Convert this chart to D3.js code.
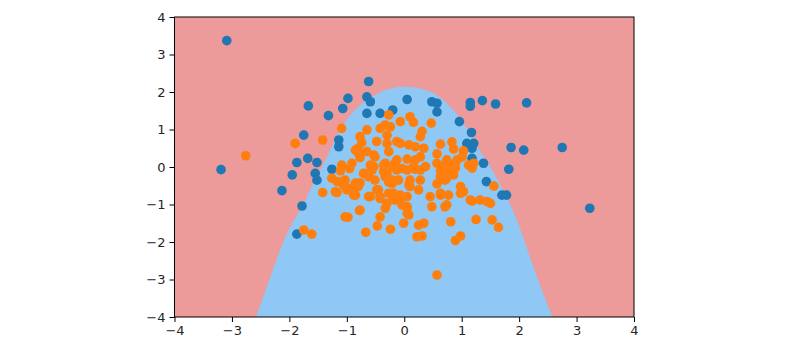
<!DOCTYPE html>
<html><head><meta charset="utf-8">
<script src="https://cdn.jsdelivr.net/npm/d3@7"></script>
<style>html,body{margin:0;padding:0;background:#fff;}svg{display:block;}</style>
</head><body>
<svg id="chart" width="799" height="344"></svg>
<script>
const xTicks = [-4,-3,-2,-1,0,1,2,3,4];
const yTicks = [-4,-3,-2,-1,0,1,2,3,4];

// decision boundary (class-1 region), left bottom -> top -> right bottom
const boundary = [
  [-2.58,-4],[-2.30,-2.8],[-2.12,-2.05],[-1.97,-1.55],[-1.79,-1.1],[-1.61,-0.53],[-1.43,0.0],
  [-1.26,0.54],[-1.09,1.07],[-0.80,1.61],[-0.33,2.05],[0.05,2.14],[0.51,1.97],[0.80,1.61],
  [1.03,1.17],[1.27,0.54],[1.50,0.0],[1.72,-0.61],[1.89,-1.15],[2.05,-1.78],[2.21,-2.5],
  [2.40,-3.3],[2.58,-4]
];

const bluePoints = [
  [-3.09,3.37],[-3.19,-0.07],[-0.62,2.28],[-0.65,1.87],[-0.59,1.74],[-0.98,1.83],[-1.07,1.56],
  [-1.67,1.63],[-1.32,1.37],[-0.65,1.43],[-0.42,1.43],[-0.20,1.52],[-1.75,0.85],[-1.14,0.72],
  [-1.14,0.54],[-1.87,0.12],[-1.68,0.23],[-1.52,0.12],[-1.95,-0.21],[-1.55,-0.17],[-1.52,-0.35],
  [-1.26,-0.06],[-1.78,-1.04],[-2.13,-0.63],[-1.87,-1.79],
  [0.05,1.80],[0.48,1.74],[0.57,1.70],[0.57,1.47],[1.15,1.72],[1.15,1.62],[1.36,1.77],[1.59,1.68],
  [2.13,1.71],[0.96,1.21],[1.17,0.92],[1.09,0.63],[1.21,0.63],[1.18,0.50],[1.86,0.52],[2.08,0.45],
  [2.75,0.52],[1.18,0.23],[1.38,0.10],[1.82,-0.06],[1.43,-0.39],[1.70,-0.75],[1.78,-0.75],[3.23,-1.10]
];

const orangePoints = [
  [-2.76,0.30],[0.57,-2.88],[-1.42,0.72],[-1.90,0.63],[-1.09,1.03],[-0.27,1.39],[-1.75,-1.68],
  [-1.61,-1.79],[-1.42,-0.68],
  [-0.65,0.99],[-0.77,0.81],[-0.74,0.65],[-0.42,1.03],[-0.33,1.12],[-0.24,1.07],[-0.07,1.21],
  [0.10,1.34],[0.16,1.19],[0.31,0.95],[0.28,0.81],[0.47,1.17],[-0.30,0.85],[-0.30,0.63],[-0.27,0.41],
  [-0.07,0.63],[0.08,0.59],[0.19,0.54],[0.34,0.50],[0.63,0.61],[0.83,0.67],[0.86,0.48],[1.03,0.43],
  [1.01,0.27],[0.57,0.35],[-0.80,0.50],[-0.65,0.41],[-0.53,0.32],[-0.85,0.45],[-0.80,0.37],
  [-0.51,0.27],[-0.77,0.25],[-0.48,0.68],[-0.13,0.68],[-0.13,0.19],[0.05,0.21],[0.19,0.19],
  [0.28,0.27],[0.57,0.10],[0.74,0.19],[0.89,0.10],[0.92,0.19],[1.21,0.10],[1.18,-0.03],[1.12,0.05],
  [-1.11,-0.10],[-0.95,-0.04],[-0.91,0.10],[-1.09,0.05],[-0.59,0.05],[-0.53,0.01],[-0.36,0.05],
  [-0.33,0.10],[-0.21,0.01],[-0.16,0.10],[-0.13,-0.08],[-0.04,-0.04],[0.05,-0.08],[0.16,0.01],
  [0.28,-0.08],[0.37,0.01],[0.19,-0.06],[0.63,-0.10],[0.69,0.03],[0.80,-0.03],[0.86,0.01],
  [0.89,-0.03],[0.80,-0.13],[0.63,-0.26],[0.77,-0.21],[0.74,-0.30],[0.86,-0.21],[0.71,-0.35],
  [0.57,-0.45],[0.77,-0.17],
  [-1.26,-0.30],[-1.17,-0.39],[-1.09,-0.39],[-1.03,-0.35],[-1.06,-0.48],[-0.94,-0.57],[-0.85,-0.43],
  [-0.80,-0.52],[-0.77,-0.42],[-0.71,-0.17],[-0.62,-0.17],[-0.62,-0.26],[-0.56,-0.08],[-0.51,-0.35],
  [-0.36,-0.12],[-0.33,-0.26],[-0.30,-0.17],[-0.27,-0.40],[-0.21,-0.44],[-0.10,-0.35],[-0.21,-0.35],
  [0.10,-0.35],[0.28,-0.35],[0.08,-0.48],[0.10,-0.52],[0.25,-0.61],
  [-1.20,-0.66],[-1.17,-0.68],[-1.00,-0.61],[-0.88,-0.75],[-0.85,-0.75],[-0.62,-0.79],[-0.59,-0.79],
  [-0.48,-0.61],[-0.45,-0.61],[-0.42,-0.79],[-0.42,-0.84],[-0.27,-0.70],[-0.19,-0.70],[-0.19,-0.84],
  [-0.07,-0.84],[-0.07,-0.75],[-0.04,-1.01],[-0.16,-0.88],[-0.30,-0.97],[0.05,-0.79],[0.05,-1.06],
  [0.05,-1.23],[0.45,-0.79],[0.63,-0.75],[0.77,-0.75],[0.63,-0.70],[0.48,-1.06],[0.71,-1.06],
  [0.74,-1.01],[0.98,-0.52],[1.03,-0.66],[0.98,-0.70],[1.15,-0.88],[1.18,-0.91],[1.32,-0.88],
  [1.44,-0.92],[1.50,-0.97],[1.56,-0.51],
  [-0.33,-1.10],[0.05,-1.10],[-0.77,-1.15],[-1.03,-1.33],[-0.42,-1.33],[0.08,-1.28],[-0.98,-1.34],
  [-0.78,-1.16],[-0.67,-1.74],[-0.47,-1.57],[-0.24,-1.66],[-0.01,-1.50],[0.34,-1.50],[0.25,-1.55],
  [0.22,-1.86],[0.31,-1.84],[0.81,-1.46],[1.25,-1.40],[1.53,-1.41],[1.64,-1.61],[0.89,-1.96],[0.98,-1.84]
];

const svg = d3.select("#chart");
const pLeft = 174.5, pRight = 634, pTop = 17, pBottom = 317;
const x = d3.scaleLinear().domain([-4,4]).range([pLeft,pRight]);
const y = d3.scaleLinear().domain([-4,4]).range([pBottom,pTop]);

svg.append("defs").append("clipPath").attr("id","clip")
  .append("rect").attr("x",pLeft).attr("y",pTop).attr("width",pRight-pLeft).attr("height",pBottom-pTop);

const g = svg.append("g").attr("clip-path","url(#clip)");
g.append("rect").attr("x",pLeft).attr("y",pTop).attr("width",pRight-pLeft).attr("height",pBottom-pTop)
  .attr("fill","#ec9a9a");

const line = d3.line().x(d=>x(d[0])).y(d=>y(d[1])).curve(d3.curveCatmullRom.alpha(0.5));
const last = boundary[boundary.length-1], first = boundary[0];
const region = line(boundary) + `L${x(last[0])},${y(-4.2)}L${x(first[0])},${y(-4.2)}Z`;
g.append("path").attr("d",region).attr("fill","#8fc8f4");

g.selectAll("circle.b").data(bluePoints).enter().append("circle")
  .attr("class","b").attr("cx",d=>x(d[0])).attr("cy",d=>y(d[1])).attr("r",4.8).attr("fill","#1f77b4");
g.selectAll("circle.o").data(orangePoints).enter().append("circle")
  .attr("class","o").attr("cx",d=>x(d[0])).attr("cy",d=>y(d[1])).attr("r",4.8).attr("fill","#ff7f0e");

const fmt = d => d < 0 ? "\u2212" + Math.abs(d) : String(d);
const xAxis = svg.append("g").attr("transform",`translate(0,${pBottom})`)
  .call(d3.axisBottom(x).tickValues(xTicks).tickFormat(fmt).tickSizeInner(5).tickSizeOuter(0).tickPadding(4));
const yAxis = svg.append("g").attr("transform",`translate(${pLeft},0)`)
  .call(d3.axisLeft(y).tickValues(yTicks).tickFormat(fmt).tickSizeInner(5).tickSizeOuter(0).tickPadding(4));
[xAxis,yAxis].forEach(a=>{
  a.select(".domain").remove();
  a.selectAll("line").attr("stroke","#000").attr("stroke-width",1);
  a.selectAll("text").attr("fill","#262626").style("font-family","DejaVu Sans").style("font-size","13px");
});

svg.append("rect").attr("x",pLeft).attr("y",pTop).attr("width",pRight-pLeft).attr("height",pBottom-pTop)
  .attr("fill","none").attr("stroke","#000").attr("stroke-width",1);
</script>
</body></html>
